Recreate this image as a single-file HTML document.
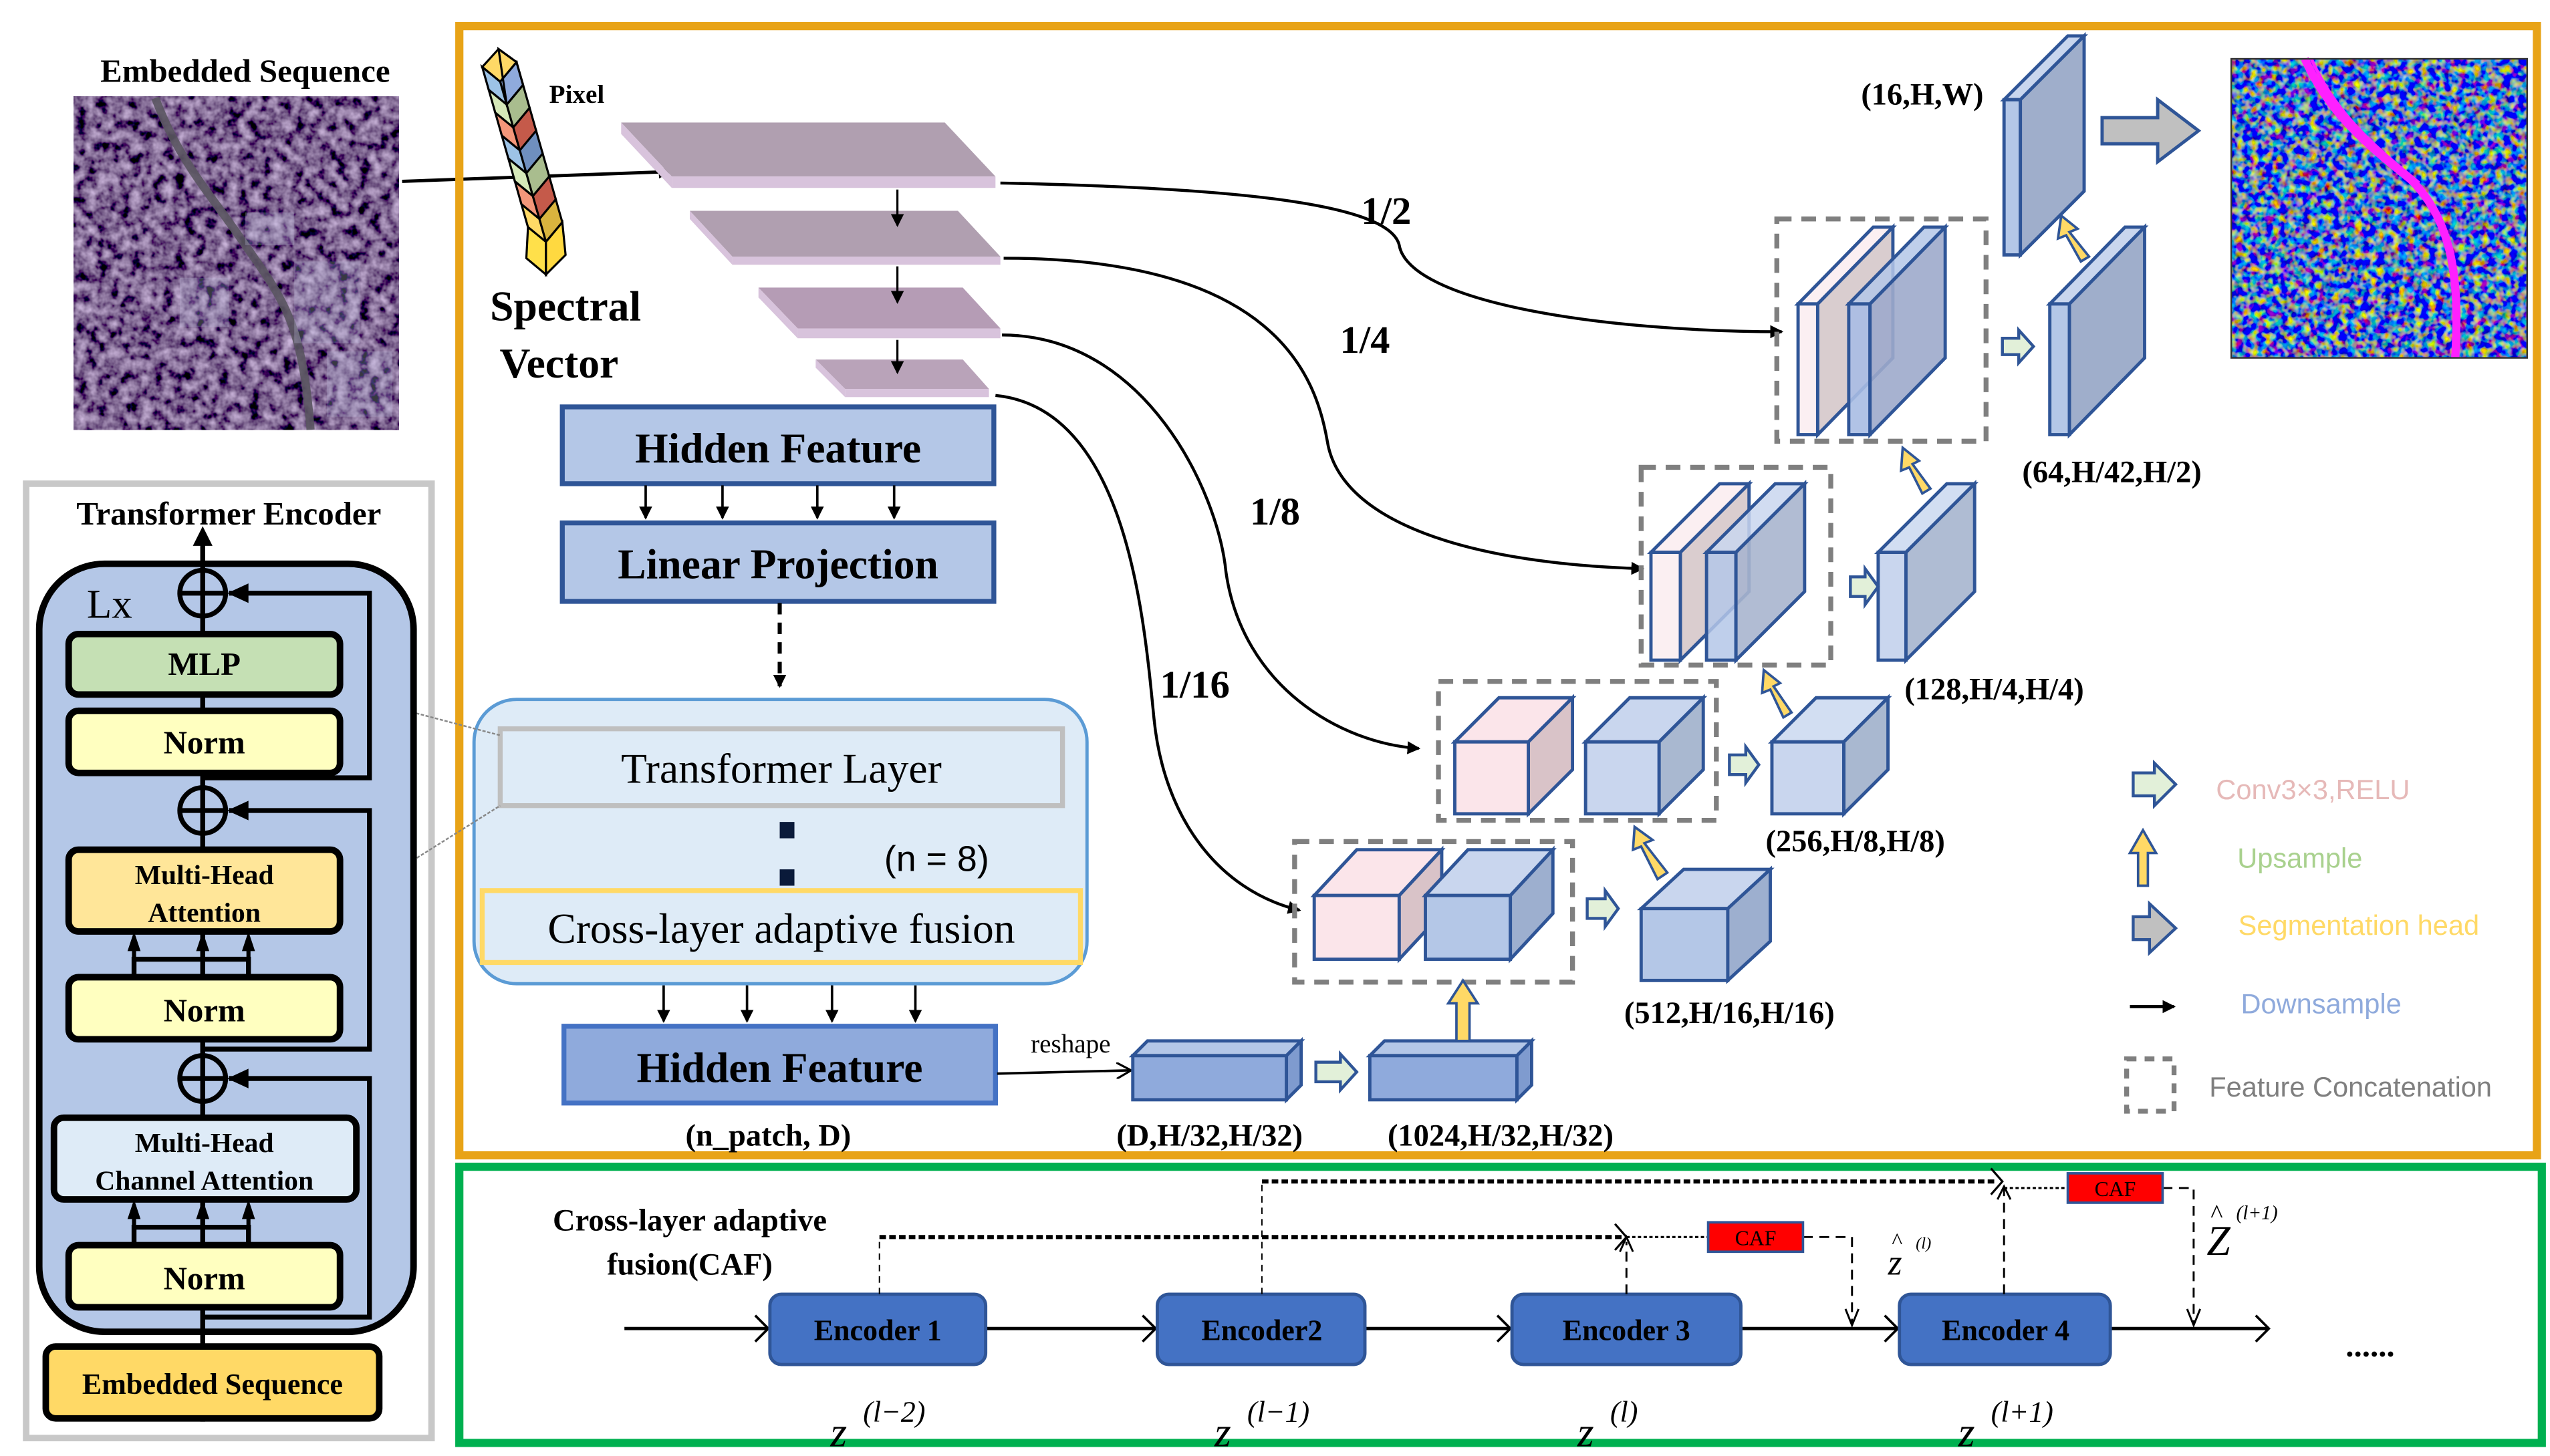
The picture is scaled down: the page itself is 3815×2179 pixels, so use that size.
<!DOCTYPE html>
<html><head><meta charset="utf-8"><style>
html,body{margin:0;padding:0;background:#fff;width:3815px;height:2179px;overflow:hidden}
svg{display:block}
.t{font-family:"Liberation Serif",serif;font-weight:bold;fill:#000}
.s{font-family:"Liberation Sans",sans-serif}
</style></head><body>
<svg width="3815" height="2179" viewBox="0 0 1560 891" preserveAspectRatio="none" xmlns="http://www.w3.org/2000/svg">
<defs>
<marker id="ar" markerWidth="8" markerHeight="8" refX="7" refY="4" orient="auto" markerUnits="userSpaceOnUse"><path d="M0,0 L8,4 L0,8 z" fill="#000"/></marker>
<marker id="ao" markerWidth="10" markerHeight="10" refX="9" refY="5" orient="auto" markerUnits="userSpaceOnUse"><path d="M0,0 L9,5 L0,10" fill="none" stroke="#000" stroke-width="1.3"/></marker>
<filter id="sat" x="0" y="0" width="1" height="1"><feTurbulence type="fractalNoise" baseFrequency="0.15" numOctaves="3" seed="3"/><feColorMatrix values="1.0 0 0 0 -0.3  0.85 0 0 0 -0.3  1.1 0 0 0 -0.28  0 0 0 0 1"/></filter>
<filter id="seg" x="0" y="0" width="1" height="1"><feTurbulence type="fractalNoise" baseFrequency="0.22" numOctaves="2" seed="7"/><feColorMatrix values="1.8 0.5 -1.3 0 -0.4  0.3 1.7 -1.0 0 -0.3  -1.0 -0.3 2.2 0 0.1  0 0 0 0 1"/></filter>
</defs>

<!-- left top -->
<text class="t" x="150" y="50" font-size="20" text-anchor="middle">Embedded Sequence</text>
<rect x="45" y="59" width="199" height="204" fill="#3e3648" filter="url(#sat)"/>
<path d="M95,60 C110,100 130,120 150,150 C175,185 185,200 190,263" fill="none" stroke="#5a5560" stroke-width="5" opacity="0.9"/>
<g fill="#b8b8d8" opacity="0.3"><rect x="150" y="130" width="30" height="20"/><rect x="180" y="160" width="40" height="50"/><rect x="110" y="170" width="30" height="30"/><rect x="200" y="215" width="40" height="40"/></g>
<line x1="246" y1="111" x2="410" y2="105" stroke="#000" stroke-width="2" marker-end="url(#ar)"/>

<!-- spectral vector -->
<g stroke="#000" stroke-width="1.3">
<polygon points="295,41 305,30 316,38 306,50" fill="#FFD966"/>
<polygon points="306,50 316,38 320,52 310,64" fill="#8FAADC"/><polygon points="295,41 306,50 310,64 299,55" fill="#9DC3E6"/>
<polygon points="299,55 310,64 314,78 303,69" fill="#D5E8B8"/><polygon points="310,64 320,52 324,66 314,78" fill="#A9BD8E"/>
<polygon points="303,69 314,78 318,92 307,83" fill="#F4977A"/><polygon points="314,78 324,66 328,80 318,92" fill="#C55A4A"/>
<polygon points="307,83 318,92 322,106 311,97" fill="#9DC3E6"/><polygon points="318,92 328,80 332,94 322,106" fill="#6F8FBF"/>
<polygon points="311,97 322,106 326,120 315,111" fill="#D5E8B8"/><polygon points="322,106 332,94 336,108 326,120" fill="#A9BD8E"/>
<polygon points="315,111 326,120 330,134 319,125" fill="#F4977A"/><polygon points="326,120 336,108 340,122 330,134" fill="#C55A4A"/>
<polygon points="319,125 330,134 334,148 323,139" fill="#FFD966"/><polygon points="330,134 340,122 344,136 334,148" fill="#D9B43E"/>
<polygon points="323,139 334,148 334,168 322,158" fill="#FFE04A"/><polygon points="334,148 344,136 346,156 334,168" fill="#FFD940"/>
<polygon points="305,30 316,38 320,52 310,64" fill="none"/>
</g>
<text class="t" x="336" y="63" font-size="16">Pixel</text>
<text class="t" x="346" y="196" font-size="26" text-anchor="middle">Spectral</text>
<text class="t" x="342" y="231" font-size="26" text-anchor="middle">Vector</text>

<!-- orange frame -->
<rect x="281" y="16" width="1271" height="691" fill="none" stroke="#E8A317" stroke-width="5"/>

<!-- plates -->
<g>
<polygon points="380,75 578,75 609,108 411,108" fill="#B09FB0"/><polygon points="380,75 411,108 411,115 380,82" fill="#D8C3DC"/><rect x="411" y="108" width="198" height="7" fill="#D8C3DC"/>
<polygon points="422,129 586,129 612,157 448,157" fill="#B09FB0"/><polygon points="422,129 448,157 448,162 422,134" fill="#D8C3DC"/><rect x="448" y="157" width="164" height="5" fill="#D8C3DC"/>
<polygon points="464,176 589,176 612,201 488,201" fill="#B59CB5"/><polygon points="464,176 488,201 488,207 464,182" fill="#D8C3DC"/><rect x="488" y="201" width="124" height="6" fill="#D8C3DC"/>
<polygon points="499,220 589,220 605,238 517,238" fill="#B9A3B9"/><polygon points="499,220 517,238 517,243 499,225" fill="#D8C3DC"/><rect x="517" y="238" width="88" height="5" fill="#D8C3DC"/>
</g>
<g stroke="#000" stroke-width="1.3" marker-end="url(#ar)">
<line x1="549" y1="116" x2="549" y2="138"/><line x1="549" y1="163" x2="549" y2="185"/><line x1="549" y1="208" x2="549" y2="228"/>
</g>

<!-- hidden feature / linear projection -->
<rect x="344" y="249" width="264" height="47" fill="#B4C7E7" stroke="#2F5597" stroke-width="3"/>
<text class="t" x="476" y="283" font-size="26" text-anchor="middle">Hidden Feature</text>
<g stroke="#000" stroke-width="1.5" marker-end="url(#ar)">
<line x1="395" y1="297" x2="395" y2="317"/><line x1="442" y1="297" x2="442" y2="317"/><line x1="500" y1="297" x2="500" y2="317"/><line x1="547" y1="297" x2="547" y2="317"/></g>
<rect x="344" y="320" width="264" height="48" fill="#B4C7E7" stroke="#2F5597" stroke-width="3"/>
<text class="t" x="476" y="354" font-size="26" text-anchor="middle">Linear Projection</text>
<line x1="477" y1="369" x2="477" y2="420" stroke="#000" stroke-width="2.5" stroke-dasharray="7,5" marker-end="url(#ar)"/>

<!-- transformer block -->
<rect x="290" y="428" width="375" height="174" rx="26" fill="#DEEBF7" stroke="#5B9BD5" stroke-width="2"/>
<rect x="306" y="446" width="344" height="47" fill="#DEEBF7" stroke="#BFBFBF" stroke-width="3"/>
<text class="t" x="478" y="479" font-size="26" text-anchor="middle" style="font-weight:normal">Transformer Layer</text>
<rect x="477" y="503" width="9" height="10" fill="#0a1a3a"/><rect x="477" y="532" width="9" height="10" fill="#0a1a3a"/>
<text class="s" x="573" y="533" font-size="22" text-anchor="middle">(n = 8)</text>
<rect x="295" y="545" width="366" height="44" fill="#DEEBF7" stroke="#FFD966" stroke-width="3"/>
<text class="t" x="478" y="577" font-size="26" text-anchor="middle" style="font-weight:normal">Cross-layer adaptive fusion</text>
<g stroke="#000" stroke-width="1.5" marker-end="url(#ar)">
<line x1="406" y1="603" x2="406" y2="625"/><line x1="457" y1="603" x2="457" y2="625"/><line x1="509" y1="603" x2="509" y2="625"/><line x1="560" y1="603" x2="560" y2="625"/></g>
<rect x="345" y="628" width="264" height="47" fill="#8FAADC" stroke="#4472C4" stroke-width="3"/>
<text class="t" x="477" y="662" font-size="26" text-anchor="middle">Hidden Feature</text>
<text class="t" x="470" y="701" font-size="19" text-anchor="middle">(n_patch,  D)</text>
<text class="t" x="655" y="644" font-size="16" text-anchor="middle" style="font-weight:normal">reshape</text>
<line x1="610" y1="657" x2="692" y2="655" stroke="#000" stroke-width="1.5" marker-end="url(#ao)"/>

<!-- small cubes -->
<g stroke="#2F5597" stroke-width="2">
<polygon points="693,646 702,637 796,637 787,646" fill="#B4C7E7"/><rect x="693" y="646" width="94" height="27" fill="#8FAADC"/><polygon points="787,646 796,637 796,664 787,673" fill="#7F9BCF"/>
<polygon points="838,646 847,637 937,637 928,646" fill="#B4C7E7"/><rect x="838" y="646" width="90" height="27" fill="#8FAADC"/><polygon points="928,646 937,637 937,664 928,673" fill="#7F9BCF"/>
</g>
<text class="t" x="740" y="701" font-size="19" text-anchor="middle">(D,H/32,H/32)</text>
<text class="t" x="918" y="701" font-size="19" text-anchor="middle">(1024,H/32,H/32)</text>

<!-- curves -->
<g fill="none" stroke="#000" stroke-width="1.8" marker-end="url(#ar)">
<path d="M612,112 C760,115 850,125 856,150 C862,185 980,203 1090,203"/>
<path d="M614,158 C780,158 805,230 812,270 C820,320 900,345 1005,348"/>
<path d="M613,205 C700,205 745,300 750,350 C760,420 820,455 868,458"/>
<path d="M609,242 C690,250 700,380 706,440 C712,500 745,545 795,557"/>
</g>
<text class="t" x="848" y="137" font-size="24" text-anchor="middle">1/2</text>
<text class="t" x="835" y="216" font-size="24" text-anchor="middle">1/4</text>
<text class="t" x="780" y="321" font-size="24" text-anchor="middle">1/8</text>
<text class="t" x="731" y="427" font-size="24" text-anchor="middle">1/16</text>

<!-- decoder block A -->
<rect x="792" y="515" width="170" height="86" fill="none" stroke="#7F7F7F" stroke-width="3" stroke-dasharray="9,6"/>
<g stroke="#2F5597" stroke-width="2">
<polygon points="804,548 830,520 882,520 856,548" fill="#FBE5EA"/><rect x="804" y="548" width="52" height="39" fill="#FBE5EA"/><polygon points="856,548 882,520 882,559 856,587" fill="#D9C3C8"/>
<polygon points="872,548 898,520 950,520 924,548" fill="#C9D6EE"/><rect x="872" y="548" width="52" height="39" fill="#B4C7E7"/><polygon points="924,548 950,520 950,559 924,587" fill="#9DAFCF"/>
<polygon points="1004,556 1030,532 1083,532 1057,556" fill="#C9D6EE"/><rect x="1004" y="556" width="53" height="44" fill="#B4C7E7"/><polygon points="1057,556 1083,532 1083,576 1057,600" fill="#9DAFCF"/>
</g>
<text class="t" x="1058" y="626" font-size="19" text-anchor="middle">(512,H/16,H/16)</text>
<!-- block B -->
<rect x="880" y="417" width="170" height="85" fill="none" stroke="#7F7F7F" stroke-width="3" stroke-dasharray="9,6"/>
<g stroke="#2F5597" stroke-width="2">
<polygon points="890,454 917,427 962,427 935,454" fill="#FBE5EA"/><rect x="890" y="454" width="45" height="44" fill="#FBE5EA"/><polygon points="935,454 962,427 962,471 935,498" fill="#D9C3C8"/>
<polygon points="970,454 997,427 1042,427 1015,454" fill="#C9D6EE"/><rect x="970" y="454" width="45" height="44" fill="#C9D6EE"/><polygon points="1015,454 1042,427 1042,471 1015,498" fill="#A9B8D0"/>
<polygon points="1084,454 1111,427 1155,427 1128,454" fill="#D2DEF2"/><rect x="1084" y="454" width="44" height="44" fill="#C9D6EE"/><polygon points="1128,454 1155,427 1155,471 1128,498" fill="#A9B8D0"/>
</g>
<text class="t" x="1135" y="521" font-size="19" text-anchor="middle">(256,H/8,H/8)</text>
<!-- block C -->
<rect x="1004" y="286" width="116" height="121" fill="none" stroke="#7F7F7F" stroke-width="3" stroke-dasharray="9,6"/>
<g stroke="#2F5597" stroke-width="2">
<polygon points="1010,338 1052,296 1070,296 1028,338" fill="#FBEFF2"/><rect x="1010" y="338" width="18" height="66" fill="#FBEFF2"/><polygon points="1028,338 1070,296 1070,362 1028,404" fill="#DACDCF"/>
<polygon points="1044,338 1086,296 1104,296 1062,338" fill="#C9D6EE" fill-opacity="0.85"/><rect x="1044" y="338" width="18" height="66" fill="#B4C7E7" fill-opacity="0.85"/><polygon points="1062,338 1104,296 1104,362 1062,404" fill="#A9B5CE" fill-opacity="0.9"/>
<polygon points="1149,338 1191,296 1208,296 1166,338" fill="#D2DEF2"/><rect x="1149" y="338" width="17" height="66" fill="#C9D6EE"/><polygon points="1166,338 1208,296 1208,362 1166,404" fill="#AFBCD3"/>
</g>
<text class="t" x="1220" y="428" font-size="19" text-anchor="middle">(128,H/4,H/4)</text>
<!-- block D -->
<rect x="1087" y="134" width="128" height="136" fill="none" stroke="#7F7F7F" stroke-width="3" stroke-dasharray="9,6"/>
<g stroke="#2F5597" stroke-width="2">
<polygon points="1100,186 1146,139 1158,139 1112,186" fill="#FBEFF2"/><rect x="1100" y="186" width="12" height="80" fill="#FBEFF2"/><polygon points="1112,186 1158,139 1158,219 1112,266" fill="#D9CDCF"/>
<polygon points="1131,186 1177,139 1190,139 1144,186" fill="#B4C7E7" fill-opacity="0.85"/><rect x="1131" y="186" width="13" height="80" fill="#A9BDE3" fill-opacity="0.9"/><polygon points="1144,186 1190,139 1190,219 1144,266" fill="#9DAACB" fill-opacity="0.9"/>
<polygon points="1254,186 1300,139 1312,139 1266,186" fill="#C9D6EE"/><rect x="1254" y="186" width="12" height="80" fill="#B4C7E7"/><polygon points="1266,186 1312,139 1312,219 1266,266" fill="#9FAECB"/>
<polygon points="1226,61 1265,22 1275,22 1236,61" fill="#C9D6EE"/><rect x="1226" y="61" width="10" height="95" fill="#B4C7E7"/><polygon points="1236,61 1275,22 1275,117 1236,156" fill="#9FAECB"/>
</g>
<text class="t" x="1292" y="295" font-size="19" text-anchor="middle">(64,H/42,H/2)</text>
<text class="t" x="1176" y="64" font-size="19" text-anchor="middle">(16,H,W)</text>

<!-- green conv arrows -->
<g fill="#E2F0D9" stroke="#2F5597" stroke-width="1.8">
<polygon points="805,650 820,650 820,645 830,656 820,667 820,662 805,662"/>
<polygon points="971,550 982,550 982,545 990,556 982,567 982,562 971,562"/>
<polygon points="1058,462 1068,462 1068,457 1076,468 1068,479 1068,474 1058,474"/>
<polygon points="1132,353 1141,353 1141,348 1149,359 1141,370 1141,365 1132,365"/>
<polygon points="1225,207 1235,207 1235,202 1244,212 1235,222 1235,217 1225,217"/>
<polygon points="1305,473 1318,473 1318,467 1331,480 1318,493 1318,487 1305,487"/>
</g>
<!-- yellow up arrows -->
<g fill="#FFD966" stroke="#2F5597" stroke-width="1.5">
<polygon points="891,637 891,614 886,614 895,600 904,614 899,614 899,637"/>
<polygon points="1014,538 1004,518 999,520 1000,506 1011,514 1006,516 1020,534"/>
<polygon points="1091,439 1083,422 1078,424 1079,410 1089,418 1085,420 1096,436"/>
<polygon points="1176,302 1168,286 1163,288 1164,274 1174,282 1170,284 1181,299"/>
<polygon points="1273,160 1264,144 1259,146 1261,132 1271,140 1266,142 1278,157"/>
<polygon points="1308,542 1308,522 1303,522 1311,508 1319,522 1314,522 1314,542"/>
</g>
<!-- grey seg arrows -->
<polygon points="1286,72 1320,72 1320,61 1345,80 1320,99 1320,88 1286,88" fill="#C0C0C0" stroke="#2F5597" stroke-width="2"/>
<polygon points="1305,561 1315,561 1315,553 1331,568 1315,583 1315,575 1305,575" fill="#C0C0C0" stroke="#2F5597" stroke-width="1.8"/>
<line x1="1303" y1="616" x2="1330" y2="616" stroke="#000" stroke-width="2" marker-end="url(#ar)"/>
<rect x="1301" y="648" width="29" height="32" fill="none" stroke="#7F7F7F" stroke-width="3" stroke-dasharray="6,5"/>
<text class="s" x="1415" y="489" font-size="17" fill="#E6B9B8" text-anchor="middle">Conv3×3,RELU</text>
<text class="s" x="1407" y="531" font-size="17" fill="#A9D18E" text-anchor="middle">Upsample</text>
<text class="s" x="1443" y="572" font-size="17" fill="#FFD966" text-anchor="middle">Segmentation head</text>
<text class="s" x="1420" y="620" font-size="17" fill="#8FAADC" text-anchor="middle">Downsample</text>
<text class="s" x="1438" y="671" font-size="17" fill="#7F7F7F" text-anchor="middle">Feature Concatenation</text>

<!-- result image -->
<rect x="1365" y="36" width="181" height="183" fill="#3040a0" filter="url(#seg)"/>
<path d="M1410,36 C1425,70 1450,90 1475,110 C1500,135 1505,170 1502,219" fill="none" stroke="#ff20ff" stroke-width="5"/>
<path d="M1414,36 C1430,72 1456,92 1480,112" fill="none" stroke="#ff20ff" stroke-width="2"/>
<rect x="1365" y="36" width="181" height="183" fill="none" stroke="#333" stroke-width="1"/>

<!-- left transformer encoder -->
<rect x="16" y="296" width="248" height="584" fill="#fff" stroke="#C8C8C8" stroke-width="4"/>
<text class="t" x="140" y="321" font-size="20" text-anchor="middle">Transformer Encoder</text>
<line x1="211" y1="425" x2="306" y2="450" stroke="#888" stroke-width="1" stroke-dasharray="2,1"/>
<line x1="255" y1="525" x2="306" y2="493" stroke="#888" stroke-width="1" stroke-dasharray="2,1"/>
<rect x="24" y="345" width="229" height="470" rx="40" fill="#B4C7E7" stroke="#000" stroke-width="4"/>
<text class="t" x="67" y="378" font-size="25" text-anchor="middle" style="font-weight:normal">Lx</text>
<g stroke="#000" stroke-width="3" fill="none">
<line x1="124" y1="870" x2="124" y2="674"/>
<line x1="124" y1="646" x2="124" y2="510"/>
<line x1="124" y1="482" x2="124" y2="377"/>
<line x1="124" y1="349" x2="124" y2="330"/>
<polyline points="124,806 226,806 226,660 140,660"/>
<polyline points="124,642 226,642 226,496 140,496"/>
<polyline points="124,476 226,476 226,363 140,363"/>
<circle cx="124" cy="660" r="14" fill="#B4C7E7"/><line x1="110" y1="660" x2="138" y2="660"/><line x1="124" y1="646" x2="124" y2="674"/>
<circle cx="124" cy="496" r="14" fill="#B4C7E7"/><line x1="110" y1="496" x2="138" y2="496"/><line x1="124" y1="482" x2="124" y2="510"/>
<circle cx="124" cy="363" r="14" fill="#B4C7E7"/><line x1="110" y1="363" x2="138" y2="363"/><line x1="124" y1="349" x2="124" y2="377"/>
<polyline points="82,598 82,587 152,587 152,598"/>
<polyline points="82,762 82,751 152,751 152,762"/>
</g>
<g fill="#000"><polygon points="139,660 152,654 152,666"/><polygon points="139,496 152,490 152,502"/><polygon points="139,363 152,357 152,369"/><polygon points="124,322 118,334 130,334"/>
<polygon points="82,570 78,582 86,582"/><polygon points="124,570 120,582 128,582"/><polygon points="152,570 148,582 156,582"/>
<polygon points="82,734 78,746 86,746"/><polygon points="124,734 120,746 128,746"/><polygon points="152,734 148,746 156,746"/></g>
<g stroke="#000" stroke-width="2.5"><line x1="82" y1="587" x2="82" y2="580"/><line x1="124" y1="598" x2="124" y2="580"/><line x1="152" y1="587" x2="152" y2="580"/>
<line x1="82" y1="751" x2="82" y2="744"/><line x1="124" y1="762" x2="124" y2="744"/><line x1="152" y1="751" x2="152" y2="744"/></g>
<g stroke="#000" stroke-width="4">
<rect x="42" y="388" width="166" height="37" rx="6" fill="#C5E0B4"/>
<rect x="42" y="435" width="166" height="38" rx="6" fill="#FFFFC0"/>
<rect x="42" y="520" width="166" height="50" rx="6" fill="#FFE699"/>
<rect x="42" y="598" width="166" height="38" rx="6" fill="#FFFFC0"/>
<rect x="33" y="684" width="185" height="50" rx="6" fill="#DEEBF7"/>
<rect x="42" y="762" width="166" height="38" rx="6" fill="#FFFFC0"/>
<rect x="28" y="824" width="204" height="44" rx="6" fill="#FFD966"/>
</g>
<text class="t" x="125" y="413" font-size="20" text-anchor="middle">MLP</text>
<text class="t" x="125" y="461" font-size="20" text-anchor="middle">Norm</text>
<text class="t" x="125" y="541" font-size="17" text-anchor="middle">Multi-Head</text>
<text class="t" x="125" y="564" font-size="17" text-anchor="middle">Attention</text>
<text class="t" x="125" y="625" font-size="20" text-anchor="middle">Norm</text>
<text class="t" x="125" y="705" font-size="17" text-anchor="middle">Multi-Head</text>
<text class="t" x="125" y="728" font-size="17" text-anchor="middle">Channel Attention</text>
<text class="t" x="125" y="789" font-size="20" text-anchor="middle">Norm</text>
<text class="t" x="130" y="853" font-size="18" text-anchor="middle">Embedded Sequence</text>

<!-- green frame -->
<rect x="281" y="714" width="1274" height="169" fill="none" stroke="#00B050" stroke-width="5"/>
<text class="t" x="422" y="753" font-size="19" text-anchor="middle">Cross-layer adaptive</text>
<text class="t" x="422" y="780" font-size="19" text-anchor="middle">fusion(CAF)</text>
<line x1="382" y1="813" x2="1388" y2="813" stroke="#000" stroke-width="2"/>
<g fill="none" stroke="#000" stroke-width="1.5">
<polyline points="462,805 470,813 462,821"/><polyline points="699,805 707,813 699,821"/><polyline points="916,805 924,813 916,821"/><polyline points="1153,805 1161,813 1153,821"/><polyline points="1380,805 1388,813 1380,821"/>
</g>
<g fill="#4472C4" stroke="#2F5597" stroke-width="2">
<rect x="471" y="792" width="132" height="43" rx="7"/><rect x="708" y="792" width="127" height="43" rx="7"/><rect x="925" y="792" width="140" height="43" rx="7"/><rect x="1162" y="792" width="129" height="43" rx="7"/>
</g>
<g class="t" font-size="18" text-anchor="middle">
<text x="537" y="820">Encoder 1</text><text x="772" y="820">Encoder2</text><text x="995" y="820">Encoder 3</text><text x="1227" y="820">Encoder 4</text></g>
<text class="t" x="1450" y="830" font-size="20" text-anchor="middle">......</text>
<!-- CAF dashes -->
<g fill="none" stroke="#000">
<line x1="538" y1="792" x2="538" y2="757" stroke-width="0.8" stroke-dasharray="4,3"/>
<line x1="538" y1="757" x2="992" y2="757" stroke-width="2.5" stroke-dasharray="4,2"/>
<line x1="772" y1="792" x2="772" y2="723" stroke-width="0.8" stroke-dasharray="4,3"/>
<line x1="772" y1="723" x2="1222" y2="723" stroke-width="2.5" stroke-dasharray="4,2"/>
<line x1="995" y1="792" x2="995" y2="760" stroke-width="1.2" stroke-dasharray="6,4"/>
<line x1="1226" y1="792" x2="1226" y2="726" stroke-width="1.2" stroke-dasharray="6,4"/>
<line x1="995" y1="757" x2="1045" y2="757" stroke-width="1.3" stroke-dasharray="2,1.5"/>
<polyline points="1103,757 1133,757 1133,810" stroke-width="1.2" stroke-dasharray="6,4"/>
<line x1="1226" y1="727" x2="1265" y2="727" stroke-width="1.3" stroke-dasharray="2,1.5"/>
<polyline points="1323,727 1342,727 1342,810" stroke-width="1.2" stroke-dasharray="6,4"/>
<polyline points="988,749 995,757 988,765" stroke-width="1.3"/><polyline points="1218,715 1225,723 1218,731" stroke-width="1.3"/>
<polyline points="991,766 995,757 999,766" stroke-width="1.2"/><polyline points="1222,734 1226,726 1230,734" stroke-width="1.2"/>
<polyline points="1129,801 1133,811 1137,801" stroke-width="1.2"/><polyline points="1338,801 1342,811 1346,801" stroke-width="1.2"/>
</g>
<rect x="1045" y="748" width="58" height="18" fill="#FF0000" stroke="#2F5597" stroke-width="1.5"/>
<rect x="1265" y="718" width="58" height="18" fill="#FF0000" stroke="#2F5597" stroke-width="1.5"/>
<text x="1074" y="762" font-family="Liberation Serif,serif" font-size="13" text-anchor="middle">CAF</text>
<text x="1294" y="732" font-family="Liberation Serif,serif" font-size="13" text-anchor="middle">CAF</text>
<g font-family="Liberation Serif,serif" font-style="italic">
<text x="1155" y="780" font-size="22">z</text><text x="1157" y="764" font-size="14">^</text><text x="1172" y="764" font-size="10">(l)</text>
<text x="1350" y="768" font-size="26">Z</text><text x="1352" y="748" font-size="16">^</text><text x="1368" y="746" font-size="12">(l+1)</text>
<text x="508" y="885" font-size="26">z</text><text x="528" y="870" font-size="18">(l−2)</text>
<text x="743" y="885" font-size="26">z</text><text x="763" y="870" font-size="18">(l−1)</text>
<text x="965" y="885" font-size="26">z</text><text x="985" y="870" font-size="18">(l)</text>
<text x="1198" y="885" font-size="26">z</text><text x="1218" y="870" font-size="18">(l+1)</text>
</g>
</svg>
</body></html>
